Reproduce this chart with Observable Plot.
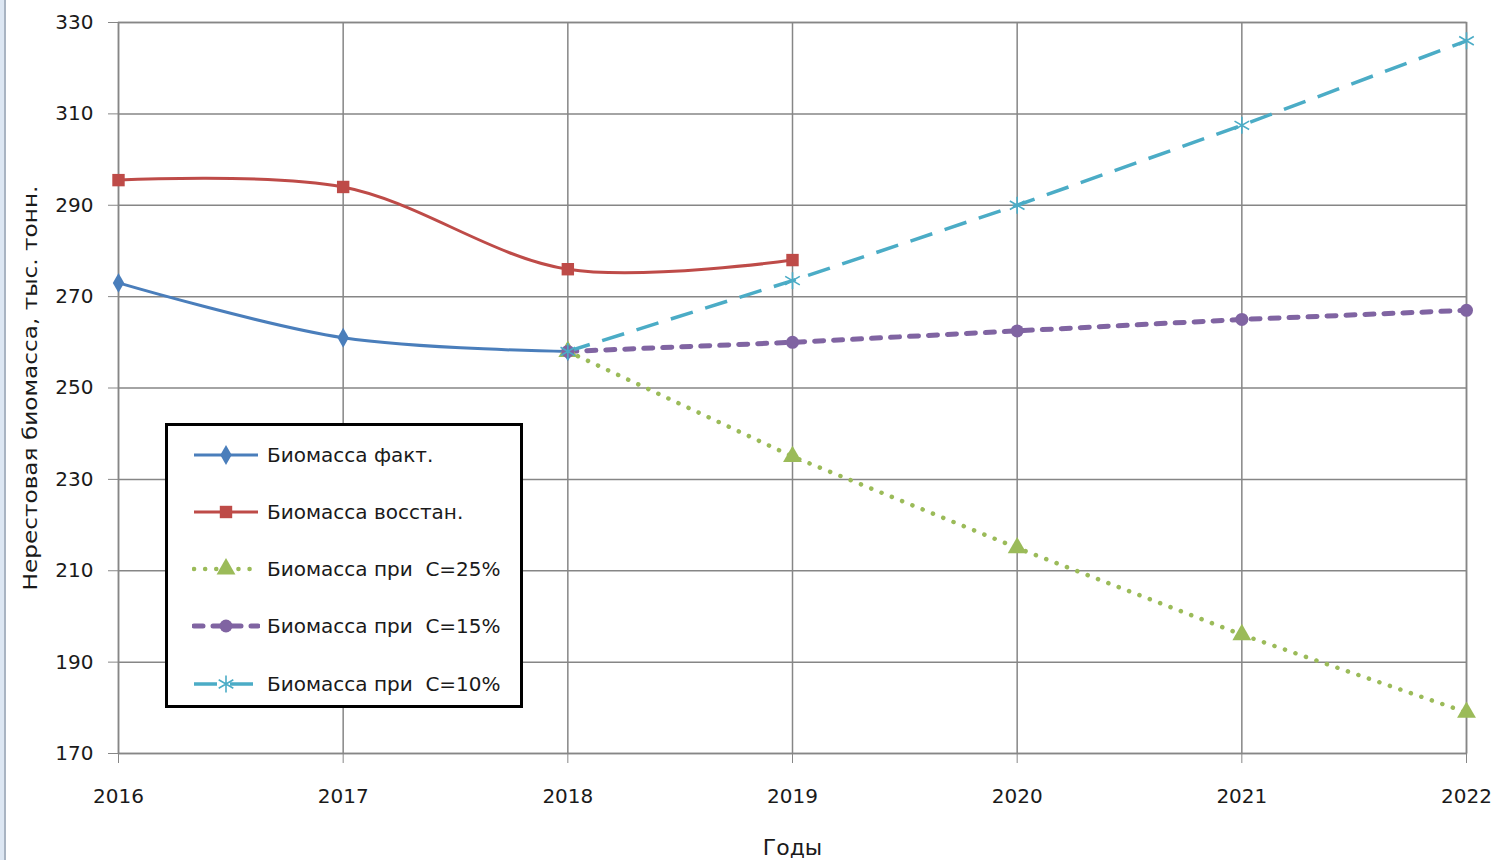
<!DOCTYPE html>
<html><head><meta charset="utf-8">
<script src="https://cdn.jsdelivr.net/npm/d3@7"></script>
<script src="https://cdn.jsdelivr.net/npm/@observablehq/plot@0.6"></script>
<style>
body{margin:0;background:#fff;font-family:"DejaVu Sans",sans-serif;}
#wrap{position:relative;width:1497px;height:860px;overflow:hidden;background:#fff;}
#edge{position:absolute;left:0;top:0;width:4px;height:860px;background:#dde7f3;border-right:2px solid #a9b4c2;}
#legend{position:absolute;left:165px;top:423px;width:352px;height:279px;border:3px solid #000;background:#fff;}
.row{position:absolute;left:24px;height:30px;display:flex;align-items:center;}
.row span{white-space:pre;font-size:20px;color:#1a1a1a;margin-left:7px;}
</style></head><body><div id="wrap"><div id="edge"></div></div>
<script>
// ---- data ----
const years = [2016, 2017, 2018, 2019, 2020, 2021, 2022];
const yTicks = [170, 190, 210, 230, 250, 270, 290, 310, 330];

const factYears = [2016, 2017, 2018];
const factValues = [273, 261, 258];

const restoredYears = [2016, 2017, 2018, 2019];
const restoredValues = [295.5, 294, 276, 278];

const forecastYears = [2018, 2019, 2020, 2021, 2022];
const c25Values = [258, 235, 215, 196, 179];
const c15Values = [258, 260, 262.5, 265, 267];
const c10Values = [258, 273.5, 290, 307.5, 326];

const seriesNames = ["Биомасса факт.", "Биомасса восстан.", "Биомасса при  C=25%", "Биомасса при  C=15%", "Биомасса при  C=10%"];
const xLabel = "Годы";
const yLabel = "Нерестовая биомасса, тыс. тонн.";

// ---- styles ----
const styles = [
  {color:"#4A7EBB", width:3, dash:null, cap:"butt", curve:"catmull-rom", symbol:"diamond", r:6, filled:true},
  {color:"#BE4B48", width:3, dash:null, cap:"butt", curve:"catmull-rom", symbol:"square", r:7, filled:true},
  {color:"#9BBB59", width:4.5, dash:"0.1 11", cap:"round", curve:"linear", symbol:"triangle", r:7, filled:true},
  {color:"#8064A2", width:5, dash:"9 10", cap:"round", curve:"linear", symbol:"circle", r:6.5, filled:true},
  {color:"#4BACC6", width:3.5, dash:"23 13", cap:"butt", curve:"linear", symbol:"asterisk", r:8, filled:false}
];

const rows = (name, yrs, vals) => vals.map((v, i) => ({series: name, year: yrs[i], value: v}));
const datasets = [
  rows(seriesNames[0], factYears, factValues),
  rows(seriesNames[1], restoredYears, restoredValues),
  rows(seriesNames[2], forecastYears, c25Values),
  rows(seriesNames[3], forecastYears, c15Values),
  rows(seriesNames[4], forecastYears, c10Values)
];

const gridColor = "#868686";
const textColor = "#1a1a1a";

const seriesMarks = [];
datasets.forEach((d, i) => {
  const s = styles[i];
  seriesMarks.push(Plot.line(d, {x:"year", y:"value", stroke:s.color, strokeWidth:s.width,
    strokeDasharray:s.dash || undefined, strokeLinecap:s.cap, curve:s.curve}));
});
datasets.forEach((d, i) => {
  const s = styles[i];
  seriesMarks.push(Plot.dot(d, s.filled
    ? {x:"year", y:"value", symbol:s.symbol, fill:s.color, stroke:"none", r:s.r}
    : {x:"year", y:"value", symbol:s.symbol, fill:"none", stroke:s.color, strokeWidth:1.6, r:s.r}));
});

const chart = Plot.plot({
  width:1497, height:860,
  marginLeft:118, marginRight:31, marginTop:22, marginBottom:107,
  style:{fontFamily:'"DejaVu Sans", sans-serif', fontSize:"20px", color:textColor, background:"transparent"},
  x:{type:"linear", domain:[2016, 2022]},
  y:{type:"linear", domain:[170, 330]},
  marks:[
    Plot.gridX(years, {stroke:gridColor, strokeOpacity:1, strokeWidth:1.5}),
    Plot.gridY(yTicks, {stroke:gridColor, strokeOpacity:1, strokeWidth:1.5}),
    Plot.frame({stroke:gridColor, strokeWidth:1.5}),
    Plot.axisX(years, {tickSize:10, tickPadding:25, stroke:gridColor, fill:textColor, tickFormat:d => String(d), label:null}),
    Plot.axisY(yTicks, {tickSize:10, tickPadding:15, stroke:gridColor, fill:textColor, tickFormat:d => String(d), label:null}),
    Plot.text([xLabel], {frameAnchor:"bottom", dy:101, text:d => d, fontSize:22, fill:textColor, textAnchor:"middle", className:"xlab"}),
    Plot.text([yLabel], {frameAnchor:"left", dx:-88, rotate:-90, text:d => d, fontSize:20, fill:textColor, textAnchor:"middle", className:"ylab"}),
    ...seriesMarks
  ]
});
const wrap = document.getElementById("wrap");
chart.style.position = "absolute";
chart.style.left = "0";
chart.style.top = "0";
wrap.appendChild(chart);
// stretch the rotated y label to the reference's length
const yl = chart.querySelector(".ylab text");
if (yl) { yl.setAttribute("textLength", "405"); yl.setAttribute("lengthAdjust", "spacingAndGlyphs"); }

// ---- legend ----
const legend = document.createElement("div");
legend.id = "legend";
const rowTops = [14, 71, 128, 185, 243];
const symMap = {diamond:d3.symbolDiamond, square:d3.symbolSquare, triangle:d3.symbolTriangle, circle:d3.symbolCircle, asterisk:d3.symbolAsterisk};
seriesNames.forEach((name, i) => {
  const s = styles[i];
  const row = document.createElement("div");
  row.className = "row";
  row.style.top = rowTops[i] + "px";
  const svg = d3.create("svg").attr("width", 68).attr("height", 30);
  const ln = svg.append("line").attr("x1", 2).attr("x2", 66).attr("y1", 15).attr("y2", 15)
    .attr("stroke", s.color).attr("stroke-width", s.width).attr("stroke-linecap", s.cap);
  if (s.dash) ln.attr("stroke-dasharray", s.dash);
  const p = svg.append("path").attr("transform", "translate(34,15)")
    .attr("d", d3.symbol(symMap[s.symbol], s.r * s.r * Math.PI)());
  if (s.filled) p.attr("fill", s.color); else p.attr("fill", "none").attr("stroke", s.color).attr("stroke-width", 1.6);
  row.appendChild(svg.node());
  const t = document.createElement("span");
  t.textContent = name;
  row.appendChild(t);
  legend.appendChild(row);
});
wrap.appendChild(legend);
</script>
</body></html>
